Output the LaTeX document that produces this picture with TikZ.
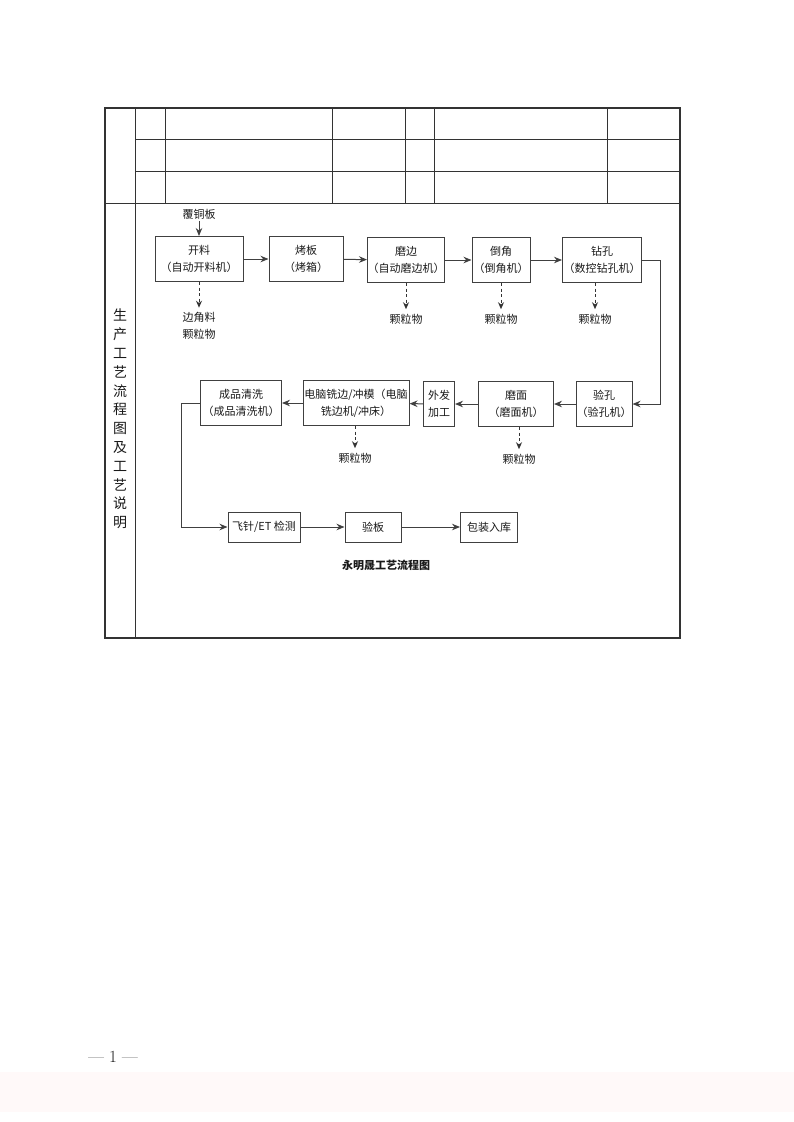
\documentclass[tikz,border=0pt]{standalone}
\usepackage{fontspec}
\newfontfamily\cjk{Noto Sans CJK SC}
\usetikzlibrary{arrows.meta}

\begin{document}
\begin{tikzpicture}[x=1pt,y=-1pt,
  every node/.style={font=\cjk\fontsize{11}{17}\selectfont,text=black!90,align=center,inner sep=1.5pt},
  box/.style={draw=black!75,line width=1pt,minimum height=45,inner xsep=0pt},
  flow/.style={draw=black!75,line width=1pt,-{Stealth[length=8pt,width=6.5pt]}},
  waste/.style={draw=black!80,line width=1pt,dash pattern=on 3pt off 2.5pt,-{Stealth[length=7pt,width=6pt]},shorten >=3pt},
  ruling/.style={draw=black!80,line width=0.9pt}]

  \useasboundingbox (0,0) rectangle (794,1122);
  \fill[pink!9] (0,1072) rectangle (794,1112);

  % Frame and table
  \draw[ruling,line width=1.4pt] (105,108) rectangle (680,638);
  \draw[ruling] (135,108) -- (135,638);
  \draw[ruling] (105,203) -- (680,203);
  \foreach \y in {139,171}
    \draw[ruling] (135,\y) -- (680,\y);
  \foreach \x in {165,332,405,434,607}
    \draw[ruling] (\x,108) -- (\x,203);

  \node[font=\cjk\fontsize{14}{18.8}\selectfont] (side) at (120,419)
    {生\\产\\工\\艺\\流\\程\\图\\及\\工\\艺\\说\\明};

  % Specification of nodes (first row)
  \node (copper) at (199,214) {覆铜板};
  \node[box,minimum width=88] (cut) at (199,259) {开料\\（自动开料机）};
  \node[box,minimum width=74] (bake) at (306,259) {烤板\\（烤箱）};
  \node[box,minimum width=76] (edge) at (406,260) {磨边\\（自动磨边机）};
  \node[box,minimum width=58] (bevel) at (501,260) {倒角\\（倒角机）};
  \node[box,minimum width=79] (drill) at (602,260) {钻孔\\（数控钻孔机）};

  \node (scrap) at (199,326) {边角料\\颗粒物};
  \node (dust1) at (406,319) {颗粒物};
  \node (dust2) at (501,319) {颗粒物};
  \node (dust3) at (595,319) {颗粒物};

  % second row
  \node[box,minimum width=81] (wash) at (241,403) {成品清洗\\（成品清洗机）};
  \node[box,minimum width=106] (rout) at (356,403) {电脑铣边/冲模（电脑\\铣边机/冲床）};
  \node[box,minimum width=31] (outs) at (439,404) {外发\\加工};
  \node[box,minimum width=75] (grind) at (516,404) {磨面\\（磨面机）};
  \node[box,minimum width=56] (holes) at (604,404) {验孔\\（验孔机）};

  \node (dust4) at (355,458) {颗粒物};
  \node (dust5) at (519,459) {颗粒物};

  % third row
  \node[box,minimum width=72,minimum height=30] (probe) at (264,527) {飞针/ET 检测};
  \node[box,minimum width=56,minimum height=30] (check) at (373,527) {验板};
  \node[box,minimum width=57,minimum height=30] (pack) at (489,527) {包装入库};

  \node[font=\cjk\bfseries\fontsize{11}{13}\selectfont] (title) at (386,565) {永明晟工艺流程图};

  \node[font=\fontsize{17}{17}\selectfont] (page) at (113,1057) {--- 1 ---};

  \coordinate (rbend) at (660,404);
  \coordinate (lbend) at (181,527);

  % Connectors
  \draw[flow] (copper) -- (cut);
  \draw[flow] (cut) -- (bake);
  \draw[flow] (bake) -- (edge);
  \draw[flow] (edge) -- (bevel);
  \draw[flow] (bevel) -- (drill);
  \draw[flow] (drill.east) -| (rbend) -- (holes.east);
  \draw[flow] (holes) -- (grind);
  \draw[flow] (grind) -- (outs);
  \draw[flow] (outs) -- (rout);
  \draw[flow] (rout) -- (wash);
  \draw[flow] (wash.west) -| (lbend) -- (probe.west);
  \draw[flow] (probe) -- (check);
  \draw[flow] (check) -- (pack);

  \draw[waste] (cut) -- (scrap);
  \draw[waste] (edge) -- (dust1);
  \draw[waste] (bevel) -- (dust2);
  \draw[waste] (drill.south -| dust3) -- (dust3);
  \draw[waste] (rout.south -| dust4) -- (dust4);
  \draw[waste] (grind.south -| dust5) -- (dust5);

\end{tikzpicture}
\end{document}
